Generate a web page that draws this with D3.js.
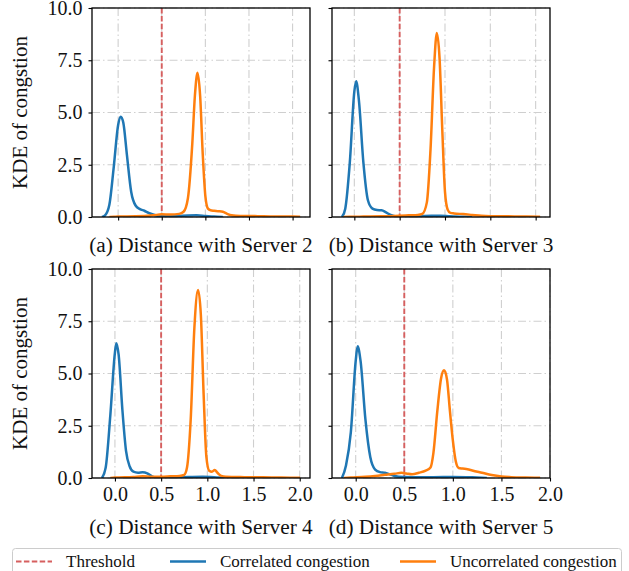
<!DOCTYPE html>
<html>
<head>
<meta charset="utf-8">
<script src="https://cdn.jsdelivr.net/npm/d3@7"></script>
<style>
  body { margin: 0; background: #fff; }
  svg { display: block; font-family: "Liberation Serif", "Times New Roman", serif; }
</style>
</head>
<body>
<div id="chart"></div>
<script>
// panel captions, ticks and threshold
const captions = ["(a) Distance with Server 2", "(b) Distance with Server 3",
                  "(c) Distance with Server 4", "(d) Distance with Server 5"]
const yTicks = [0, 2.5, 5, 7.5, 10]
const xTicks = [0, 0.5, 1, 1.5, 2]
const threshold = 0.5
const seriesNames = ["Threshold", "Correlated congestion", "Uncorrelated congestion"]

// KDE curves, [distance, density]
const corrA = [[-0.186,0],[-0.15,0.08],[-0.1,0.6],[-0.05,2.4],[0,4.4],[0.03,4.8],[0.06,4.5],[0.1,3.0],[0.15,1.2],[0.2,0.55],[0.25,0.38],[0.3,0.3],[0.35,0.2],[0.4,0.12],[0.45,0.06],[0.5,0.04],[0.6,0.03],[0.7,0.05],[0.8,0.07],[0.9,0.08],[1.0,0.05],[1.1,0.02],[1.2,0]]
const uncorrA = [[-0.1,0],[-0.05,0.01],[0,0.02],[0.2,0.03],[0.4,0.08],[0.5,0.13],[0.6,0.12],[0.7,0.15],[0.75,0.25],[0.8,0.9],[0.85,3.5],[0.88,5.8],[0.91,6.9],[0.94,5.8],[0.97,3.0],[1.0,1.0],[1.03,0.4],[1.06,0.32],[1.1,0.3],[1.15,0.28],[1.2,0.25],[1.25,0.15],[1.3,0.08],[1.4,0.05],[1.5,0.05],[1.6,0.04],[1.8,0.02],[2.0,0.02],[2.086,0.01]]
const corrB = [[-0.137,0],[-0.1,0.4],[-0.05,2.6],[0,6.0],[0.02,6.5],[0.05,5.6],[0.1,2.6],[0.15,0.8],[0.2,0.4],[0.25,0.33],[0.3,0.32],[0.35,0.22],[0.4,0.1],[0.45,0.04],[0.5,0.03],[0.7,0.03],[0.85,0.06],[0.95,0.06],[1.05,0.03],[1.2,0.01],[1.3,0]]
const uncorrB = [[-0.12,0],[-0.05,0.01],[0.1,0.02],[0.3,0.03],[0.5,0.06],[0.6,0.08],[0.7,0.1],[0.75,0.15],[0.8,0.7],[0.84,3.2],[0.88,7.2],[0.91,8.8],[0.94,7.6],[0.97,4.2],[1.0,1.2],[1.03,0.35],[1.06,0.2],[1.1,0.17],[1.2,0.14],[1.3,0.1],[1.4,0.06],[1.5,0.04],[1.7,0.03],[1.9,0.02],[2.049,0.01]]
const corrC = [[-0.141,0],[-0.1,0.5],[-0.05,3.0],[0,6.0],[0.015,6.45],[0.04,5.9],[0.08,3.3],[0.12,1.3],[0.16,0.55],[0.2,0.3],[0.25,0.25],[0.3,0.27],[0.35,0.22],[0.4,0.08],[0.45,0.03],[0.6,0.03],[0.8,0.05],[0.95,0.06],[1.1,0.03],[1.2,0]]
const uncorrC = [[-0.05,0],[0,0.02],[0.2,0.05],[0.3,0.08],[0.4,0.06],[0.5,0.06],[0.6,0.08],[0.7,0.1],[0.75,0.15],[0.78,0.5],[0.82,2.8],[0.86,7.2],[0.9,9.0],[0.93,7.8],[0.96,4.0],[0.99,1.0],[1.02,0.35],[1.05,0.3],[1.08,0.38],[1.11,0.25],[1.15,0.1],[1.2,0.06],[1.4,0.04],[1.6,0.03],[1.8,0.02],[2.004,0.01]]
const corrD = [[-0.142,0],[-0.1,0.6],[-0.05,2.2],[0,5.6],[0.02,6.3],[0.05,5.6],[0.1,2.8],[0.15,1.0],[0.2,0.4],[0.25,0.28],[0.3,0.25],[0.35,0.18],[0.4,0.1],[0.5,0.05],[0.7,0.03],[0.9,0.05],[1.0,0.05],[1.2,0.03],[1.35,0]]
const uncorrD = [[-0.12,0],[-0.05,0.02],[0.1,0.06],[0.2,0.1],[0.3,0.15],[0.4,0.2],[0.47,0.25],[0.52,0.22],[0.58,0.18],[0.65,0.25],[0.72,0.35],[0.77,0.5],[0.8,1.2],[0.84,3.2],[0.88,4.8],[0.91,5.15],[0.94,4.7],[0.97,3.2],[1.0,1.8],[1.03,0.8],[1.06,0.48],[1.1,0.45],[1.15,0.42],[1.2,0.36],[1.3,0.25],[1.4,0.14],[1.5,0.07],[1.6,0.04],[1.75,0.02],[1.898,0.01]]

const corrSeries = [corrA, corrB, corrC, corrD]
const uncorrSeries = [uncorrA, uncorrB, uncorrC, uncorrD]

const colors = { threshold: "#d65f5f", corr: "#1f77b4", uncorr: "#ff7f0e" }

const W = 629, H = 571
const colX = [92, 332], rowY = [8, 269]
const pw = 218, ph = 209

const svg = d3.select("#chart").append("svg")
    .attr("width", W).attr("height", H)

captions.forEach((cap, i) => {
    const col = i % 2, row = Math.floor(i / 2)
    const g = svg.append("g").attr("transform", `translate(${colX[col]},${rowY[row]})`)

    // x range like matplotlib: data extent plus 5% margin
    const ext = d3.extent(corrSeries[i].concat(uncorrSeries[i]), d => d[0])
    const m = (ext[1] - ext[0]) * 0.05
    const x = d3.scaleLinear().domain([ext[0] - m, ext[1] + m]).range([0, pw])
    const y = d3.scaleLinear().domain([0, 10]).range([ph, 0])

    g.append("clipPath").attr("id", "clip" + i)
        .append("rect").attr("width", pw).attr("height", ph)

    // grid
    g.selectAll(".gx").data(xTicks).enter().append("line")
        .attr("x1", d => x(d)).attr("x2", d => x(d))
        .attr("y1", 0).attr("y2", ph)
        .attr("stroke", "#cfcfcf").attr("stroke-width", 1.1)
        .attr("stroke-dasharray", "8,3,1.5,3")
    g.selectAll(".gy").data(yTicks).enter().append("line")
        .attr("x1", 0).attr("x2", pw)
        .attr("y1", d => y(d)).attr("y2", d => y(d))
        .attr("stroke", "#cfcfcf").attr("stroke-width", 1.1)
        .attr("stroke-dasharray", "8,3,1.5,3")

    // threshold
    g.append("line")
        .attr("x1", x(threshold)).attr("x2", x(threshold))
        .attr("y1", 0).attr("y2", ph)
        .attr("stroke", colors.threshold).attr("stroke-width", 1.9)
        .attr("stroke-dasharray", "5.5,2.4")

    const line = d3.line()
        .x(d => x(d[0])).y(d => y(d[1]))
        .curve(d3.curveMonotoneX)

    const plot = g.append("g").attr("clip-path", `url(#clip${i})`)
    plot.append("path").datum(corrSeries[i])
        .attr("d", line).attr("fill", "none")
        .attr("stroke", colors.corr).attr("stroke-width", 2.5)
        .attr("stroke-linejoin", "round")
    plot.append("path").datum(uncorrSeries[i])
        .attr("d", line).attr("fill", "none")
        .attr("stroke", colors.uncorr).attr("stroke-width", 2.5)
        .attr("stroke-linejoin", "round")

    // axes
    const xAxis = d3.axisBottom(x).tickValues(xTicks).tickSize(3.5).tickPadding(5)
        .tickFormat(row === 1 ? d3.format(".1f") : "")
    const gx = g.append("g").attr("transform", `translate(0,${ph})`).call(xAxis)
    const yAxis = d3.axisLeft(y).tickValues(yTicks).tickSize(3.5).tickPadding(6)
        .tickFormat(col === 0 ? d3.format(".1f") : "")
    const gy = g.append("g").call(yAxis)
    ;[gx, gy].forEach(a => {
        a.select(".domain").remove()
        a.selectAll("line").attr("stroke", "#000").attr("stroke-width", 1.1)
        a.selectAll("text").attr("font-size", 20).attr("fill", "#111")
            .style("font-family", "'Liberation Serif', serif")
    })

    g.append("rect").attr("width", pw).attr("height", ph)
        .attr("fill", "none").attr("stroke", "#000").attr("stroke-width", 1.3)

    g.append("text")
        .attr("x", pw / 2).attr("y", row === 1 ? ph + 56 : ph + 35)
        .attr("text-anchor", "middle").attr("font-size", 21.3).attr("fill", "#111")
        .text(cap)

    if (col === 0) {
        g.append("text")
            .attr("transform", `translate(${27 - colX[0]},${ph / 2}) rotate(-90)`)
            .attr("text-anchor", "middle").attr("font-size", 21).attr("fill", "#111")
            .text("KDE of congstion")
    }
})

// legend
const lg = svg.append("g")
lg.append("rect").attr("x", 12.5).attr("y", 548.5).attr("width", 609).attr("height", 32)
    .attr("rx", 3).attr("fill", "#fff").attr("stroke", "#ccc")
const legendX = [16, 170, 400]
const legendStyle = [
    { c: colors.threshold, w: 1.9, dash: "5.5,2.4" },
    { c: colors.corr, w: 2.5, dash: null },
    { c: colors.uncorr, w: 2.5, dash: null }
]
seriesNames.forEach((name, i) => {
    lg.append("line")
        .attr("x1", legendX[i]).attr("x2", legendX[i] + 36)
        .attr("y1", 561.5).attr("y2", 561.5)
        .attr("stroke", legendStyle[i].c).attr("stroke-width", legendStyle[i].w)
        .attr("stroke-dasharray", legendStyle[i].dash)
    lg.append("text")
        .attr("x", legendX[i] + 50).attr("y", 566.5)
        .attr("font-size", 17).attr("fill", "#111")
        .text(name)
})
</script>
</body>
</html>
